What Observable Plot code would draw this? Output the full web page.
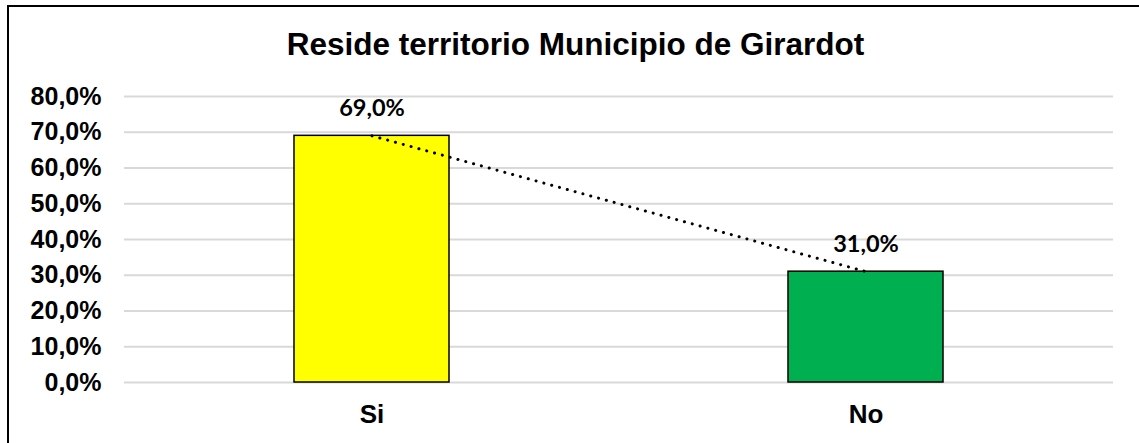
<!DOCTYPE html>
<html>
<head>
<meta charset="utf-8">
<script src="https://cdn.jsdelivr.net/npm/d3@7"></script>
<script src="https://cdn.jsdelivr.net/npm/@observablehq/plot@0.6"></script>
<style>
  html, body { margin: 0; padding: 0; background: #fff; }
  #wrap { position: relative; width: 1139px; height: 443px; overflow: hidden; background: #fff; }
  #frame { position: absolute; left: 7px; top: 5px; width: 1200px; height: 500px; border-top: 2px solid #000; border-left: 2px solid #000; box-sizing: border-box; pointer-events: none; }
  #title { position: absolute; left: 0; width: 1151px; top: 29px; text-align: center; font-family: "Liberation Sans", Arial, sans-serif; font-weight: bold; font-size: 31.5px; line-height: 1; color: #000; white-space: nowrap; }
  #chart { position: absolute; left: 0; top: 0; }
</style>
</head>
<body>
<div id="wrap">
  <div id="chart"></div>
  <div id="frame"></div>
  <div id="title"></div>
</div>
<script>
const title = "Reside territorio Municipio de Girardot";
const categories = ["Si", "No"];
const values = [0.69, 0.31];
const barColors = ["#FFFF00", "#00B050"];
const yTicks = [0, 0.1, 0.2, 0.3, 0.4, 0.5, 0.6, 0.7, 0.8];

const fmt = v => (v * 100).toFixed(1).replace(".", ",") + "%";
const data = categories.map((c, i) => ({cat: c, value: values[i], color: barColors[i]}));

document.getElementById("title").textContent = title;

const chart = Plot.plot({
  width: 1139,
  height: 443,
  marginTop: 96,
  marginBottom: 61,
  marginLeft: 124,
  marginRight: 26,
  style: {background: "transparent", fontFamily: "'Liberation Sans', Arial, sans-serif", color: "#000"},
  x: {type: "band", domain: categories, paddingInner: 0.686, paddingOuter: 0.343, axis: null, label: null},
  y: {domain: [0, 0.8], axis: null, label: null},
  color: {type: "identity"},
  marks: [
    Plot.ruleY(yTicks, {stroke: "#d9d9d9", strokeWidth: 1.8}),
    Plot.barY(data, {x: "cat", y: "value", fill: "color", stroke: "#000", strokeWidth: 1.5}),
    Plot.line(data, {x: "cat", y: "value", stroke: "#000", strokeWidth: 3, strokeDasharray: "0.1,8", strokeLinecap: "round"}),
    Plot.text(data, {x: "cat", y: "value", text: d => fmt(d.value), dy: -20, lineAnchor: "bottom", fontFamily: "Lato, sans-serif", fontWeight: "bold", fontSize: 23.5, fill: "#000"}),
    Plot.axisY(yTicks, {tickSize: 0, tickPadding: 23, tickFormat: fmt, fontSize: 25, fontWeight: "bold", fill: "#000", label: null}),
    Plot.axisX({tickSize: 0, tickPadding: 22, fontSize: 26, fontWeight: "bold", fill: "#000", label: null})
  ]
});
document.getElementById("chart").appendChild(chart);
</script>
</body>
</html>
